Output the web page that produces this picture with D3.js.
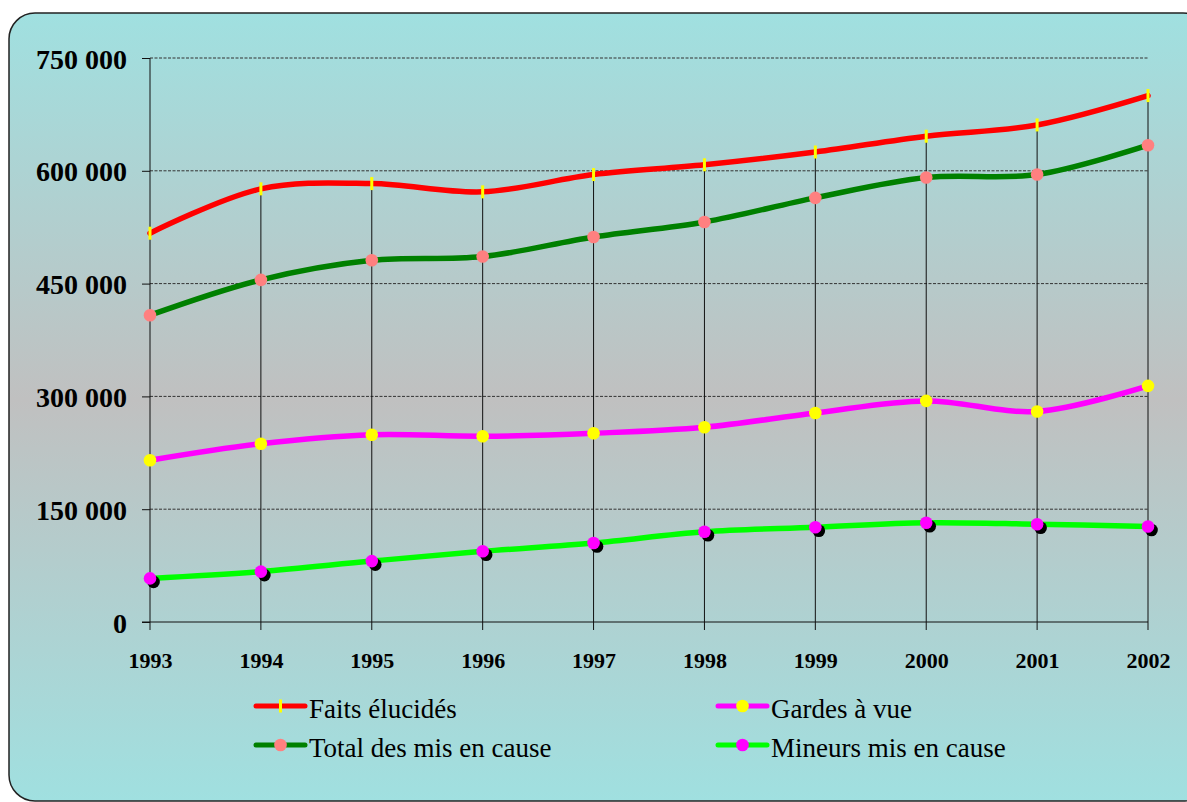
<!DOCTYPE html>
<html>
<head>
<meta charset="utf-8">
<script src="https://cdn.jsdelivr.net/npm/d3@7"></script>
<style>
  html, body { margin: 0; padding: 0; background: #fff; }
  svg { display: block; }
  svg text { font-family: "Liberation Serif", "Times New Roman", serif; }
</style>
</head>
<body>
<svg id="chart" width="1187" height="802"></svg>
<script>
// data
const years = ["1993", "1994", "1995", "1996", "1997", "1998", "1999", "2000", "2001", "2002"];
const faitsElucides = [517000, 576000, 583000, 572000, 595000, 608000, 625000, 646000, 661000, 700000];
const totalMisEnCause = [408000, 455000, 481000, 486000, 512000, 532000, 564000, 591000, 595000, 634000];
const gardesAVue = [215000, 237000, 249000, 247000, 251000, 259000, 278000, 294000, 280000, 314000];
const mineurs = [58000, 67000, 81000, 94000, 105000, 120000, 126000, 132000, 130000, 127000];
const yTicks = [0, 150000, 300000, 450000, 600000, 750000];

const serif = "'Liberation Serif', 'Times New Roman', serif";
const svg = d3.select("#chart");

// background frame with vertical gradient
const defs = svg.append("defs");
const grad = defs.append("linearGradient")
  .attr("id", "bg")
  .attr("x1", 0).attr("y1", 0).attr("x2", 0).attr("y2", 1);
grad.append("stop").attr("offset", "0%").attr("stop-color", "#a0e0e0");
grad.append("stop").attr("offset", "49%").attr("stop-color", "#c0c0c0");
grad.append("stop").attr("offset", "100%").attr("stop-color", "#a0e0e0");

svg.append("rect")
  .attr("x", 9).attr("y", 13)
  .attr("width", 1200).attr("height", 788)
  .attr("rx", 26).attr("ry", 26)
  .attr("fill", "url(#bg)")
  .attr("stroke", "#222")
  .attr("stroke-width", 1.5);

const x = d3.scalePoint().domain(years).range([150, 1148]);
const y = d3.scaleLinear().domain([0, 750000]).range([622, 58]);

const fr = d3.formatLocale({ decimal: ",", thousands: " ", grouping: [3], currency: ["", ""] });
const fmt = fr.format(",d");

// horizontal dashed gridlines
svg.append("g")
  .selectAll("line")
  .data(yTicks.filter(d => d > 0))
  .join("line")
  .attr("x1", 150).attr("x2", 1148)
  .attr("y1", d => y(d)).attr("y2", d => y(d))
  .attr("stroke", "#333")
  .attr("stroke-width", 1)
  .attr("stroke-dasharray", "3,1.5");

// vertical drop lines from the top series down past the axis
svg.append("g")
  .selectAll("line")
  .data(years.slice(1))
  .join("line")
  .attr("x1", d => x(d)).attr("x2", d => x(d))
  .attr("y1", (d, i) => y(faitsElucides[i + 1]))
  .attr("y2", 630)
  .attr("stroke", "#111")
  .attr("stroke-width", 1);

// y axis
const yAxis = d3.axisLeft(y).tickValues(yTicks).tickFormat(fmt).tickSize(8).tickPadding(15);
const gy = svg.append("g").attr("transform", "translate(150,0)").call(yAxis);
gy.attr("font-family", serif);
gy.select(".domain").attr("d", "M0,58V630").attr("stroke", "#111");
gy.selectAll(".tick line").attr("stroke", "#111");
gy.selectAll(".tick text")
  .style("font-family", serif)
  .attr("font-size", 28)
  .attr("font-weight", "bold")
  .attr("fill", "#000")
  .attr("dy", "0.36em");

// x axis
const xAxis = d3.axisBottom(x).tickSize(0).tickPadding(30);
const gx = svg.append("g").attr("transform", "translate(0,622)").call(xAxis);
gx.attr("font-family", serif);
gx.select(".domain").attr("d", "M142,0H1148").attr("stroke", "#111");
gx.selectAll(".tick text")
  .style("font-family", serif)
  .attr("font-size", 22)
  .attr("font-weight", "bold")
  .attr("fill", "#000");

// series
const line = d3.line()
  .x((d, i) => x(years[i]))
  .y(d => y(d))
  .curve(d3.curveCatmullRom.alpha(0.5));

const series = [
  { name: "Faits élucidés", values: faitsElucides, color: "#ff0000", marker: "dash", mcolor: "#ffff00" },
  { name: "Total des mis en cause", values: totalMisEnCause, color: "#008000", marker: "circle", mcolor: "#ff8080" },
  { name: "Gardes à vue", values: gardesAVue, color: "#ff00ff", marker: "circle", mcolor: "#ffff00" },
  { name: "Mineurs mis en cause", values: mineurs, color: "#00ff00", marker: "shadow", mcolor: "#ff00ff" }
];

function drawMarker(g, s, cx, cy) {
  if (s.marker === "dash") {
    g.append("rect")
      .attr("x", cx - 1.5).attr("y", cy - 6.5)
      .attr("width", 3).attr("height", 13)
      .attr("fill", s.mcolor);
  } else {
    if (s.marker === "shadow") {
      g.append("circle")
        .attr("cx", cx + 3.5).attr("cy", cy + 3.5).attr("r", 6.3)
        .attr("fill", "#000");
    }
    g.append("circle")
      .attr("cx", cx).attr("cy", cy).attr("r", 6.3)
      .attr("fill", s.mcolor);
  }
}

series.forEach(s => {
  svg.append("path")
    .datum(s.values)
    .attr("d", line)
    .attr("fill", "none")
    .attr("stroke", s.color)
    .attr("stroke-width", 5.5)
    .attr("stroke-linecap", "round");
});

series.forEach(s => {
  const g = svg.append("g");
  s.values.forEach((v, i) => drawMarker(g, s, x(years[i]), y(v)));
});

// legend, two columns
const legendPos = [
  { lx: 256, ly: 706 },
  { lx: 256, ly: 745 },
  { lx: 718, ly: 706 },
  { lx: 718, ly: 745 }
];

series.forEach((s, i) => {
  const p = legendPos[i];
  const g = svg.append("g");
  g.append("line")
    .attr("x1", p.lx).attr("x2", p.lx + 49)
    .attr("y1", p.ly).attr("y2", p.ly)
    .attr("stroke", s.color)
    .attr("stroke-width", 5)
    .attr("stroke-linecap", "round");
  drawMarker(g, { ...s, marker: s.marker === "shadow" ? "circle" : s.marker }, p.lx + 24.5, p.ly);
  g.append("text")
    .attr("x", p.lx + 53)
    .attr("y", p.ly + 12)
    .style("font-family", serif)
    .attr("font-size", 27)
    .attr("fill", "#000")
    .text(s.name);
});
</script>
</body>
</html>
